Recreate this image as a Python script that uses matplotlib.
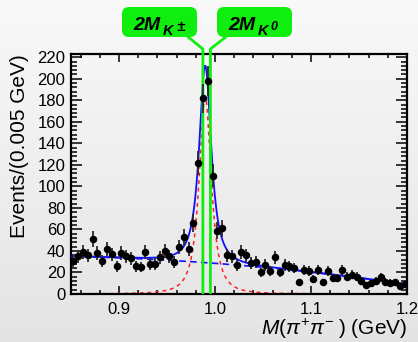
import numpy as np
import matplotlib
matplotlib.use("Agg")
import matplotlib.pyplot as plt
from matplotlib.ticker import MultipleLocator
from matplotlib.patches import FancyBboxPatch
from matplotlib.colors import LinearSegmentedColormap

plt.rcParams['font.family'] = 'Liberation Sans'
plt.rcParams['mathtext.fontset'] = 'custom'
plt.rcParams['mathtext.rm'] = 'Liberation Sans'
plt.rcParams['mathtext.it'] = 'Liberation Sans:italic'
plt.rcParams['mathtext.bf'] = 'Liberation Sans:bold'

# histogram, 0.005 GeV bins from 0.85 to 1.2
bin_lo, bin_hi, bin_w = 0.85, 1.2, 0.005
counts = [31, 35, 39, 36, 51, 38, 31, 42, 37, 26,
          38, 35, 33, 26, 25, 39, 28, 28, 34, 40,
          35, 30, 44, 53, 42, 66, 122, 182, 198, 110,
          59, 61, 36, 35, 27, 39, 36, 29, 30, 20,
          27, 21, 34, 20, 27, 26, 24, 11, 22, 21,
          14, 22, 11, 21, 15, 15, 22, 16, 18, 16,
          12, 8.5, 10, 12.5, 15.5, 11.5, 10.5, 11, 7, 9]
xticks = [0.9, 1.0, 1.1, 1.2]
xtick_labels = ['0.9', '1.0', '1.1', '1.2']

# kaon masses (GeV) for the thresholds
m_k_charged = 0.493677
m_k_neutral = 0.497611

# fit result: signal peak + smooth background (in t = m - 0.85)
sig_amp, sig_mean, sig_width, sig_pow = 183.0, 0.9898, 0.0089, 1.3
bkg_c0, bkg_c1, bkg_c2 = 35.0, -20.1, -154.8

W, H = 418, 342
fig = plt.figure(figsize=(W / 100, H / 100), dpi=100)

# light grey gradient background
bg = fig.add_axes([0, 0, 1, 1], zorder=-10)
grad = LinearSegmentedColormap.from_list('g', ['#f9f9f9', '#e4e4e4'])
bg.imshow(np.linspace(0, 1, 256).reshape(-1, 1), cmap=grad, aspect='auto', extent=[0, 1, 0, 1])
bg.axis('off')

ax = fig.add_axes([71 / W, 1 - 294 / H, 336 / W, 240 / H])
ax.set_facecolor('none')

counts = np.array(counts, dtype=float)
centers = bin_lo + bin_w * (np.arange(len(counts)) + 0.5)

xx = np.linspace(bin_lo, bin_hi, 1200)
sig = sig_amp / (1 + ((xx - sig_mean) / sig_width) ** 2) ** sig_pow
tt = xx - bin_lo
bkg = bkg_c0 + bkg_c1 * tt + bkg_c2 * tt ** 2

ax.plot(xx, sig, color='#ff2020', lw=1.1, ls=(0, (2.5, 2.5)), zorder=2)
ax.plot(xx, bkg, color='#1010ff', lw=1.2, ls=(0, (4, 2.5)), zorder=2)
ax.plot(xx, sig + bkg, color='#1010ff', lw=1.3, zorder=3)

ax.errorbar(centers, counts, yerr=np.sqrt(counts), fmt='o', ms=4.4, color='black',
            ecolor='#2a2a2a', elinewidth=1.3, capsize=0, zorder=6)

ax.set_xlim(bin_lo, bin_hi)
ax.set_ylim(0, 223)

# threshold lines with labelled boxes (positions in pixels from top-left)
green = '#10ee10'
inv = ax.transData.inverted()
bi = dict(family='Liberation Sans', weight='bold', style='italic', ha='left', va='baseline')
boxes = [(122, 2 * m_k_charged, 187, '\u00b1'),
         (217, 2 * m_k_neutral, 227, '0')]
for bx, xthr, xcorner, tag in boxes:
    fig.add_artist(FancyBboxPatch((bx / 100, (H - 37) / 100), 0.75, 0.30,
                                  boxstyle='round,pad=0,rounding_size=0.07',
                                  transform=fig.dpi_scale_trans, fc=green, ec=green, lw=0))
    fig.text((bx + 11) / W, 1 - 29.5 / H, '2M', fontsize=14, **bi)
    fig.text((bx + 40.5) / W, 1 - 35 / H, 'K', fontsize=10.5, **bi)
    if tag == '0':
        fig.text((bx + 53) / W, 1 - 30.5 / H, tag, fontsize=9, **bi)
    else:
        fig.text((bx + 54) / W, 1 - 31 / H, tag, fontsize=11, **bi)
    c = inv.transform((xcorner, H - 36))
    k = inv.transform((0, H - 49))
    ax.plot([c[0], xthr, xthr], [c[1], k[1], 0], color=green, lw=2.0,
            clip_on=False, zorder=4, solid_capstyle='butt')

ax.set_xticks(xticks)
ax.set_xticklabels(xtick_labels)
ax.xaxis.set_minor_locator(MultipleLocator(0.02))
ax.yaxis.set_major_locator(MultipleLocator(20))
ax.yaxis.set_minor_locator(MultipleLocator(4))
ax.tick_params(which='both', direction='in', top=True, right=True, width=1.1)
ax.tick_params(axis='y', which='major', length=8, labelsize=12, pad=4)
ax.tick_params(axis='y', which='minor', length=4.5)
ax.tick_params(axis='x', which='major', length=5.5, labelsize=12, pad=6)
ax.tick_params(axis='x', which='minor', length=3)
for s in ax.spines.values():
    s.set_linewidth(1.6)

ax.set_xlabel(r'$M(\pi^{+}\pi^{-}\;)$ (GeV)', fontsize=15, loc='right', labelpad=0)
ax.set_ylabel('Events/(0.005 GeV)', fontsize=15, loc='top', labelpad=6)

fig.savefig('out.png', dpi=100)
